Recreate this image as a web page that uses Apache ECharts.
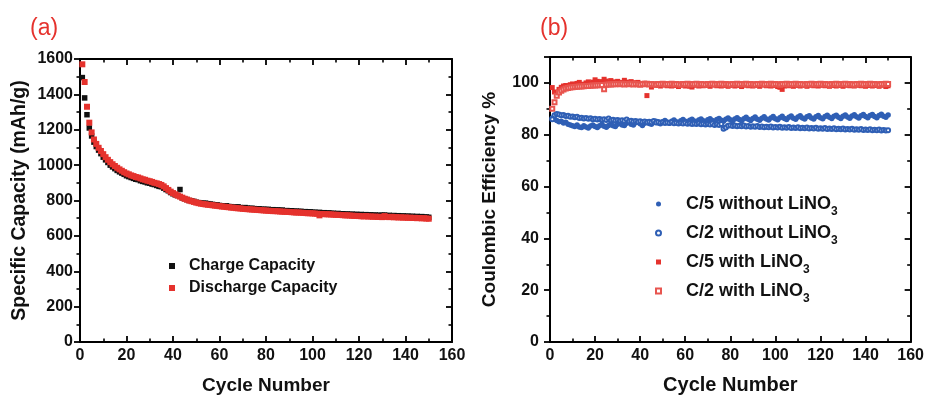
<!DOCTYPE html>
<html>
<head>
<meta charset="utf-8">
<script src="https://cdn.jsdelivr.net/npm/echarts@6/dist/echarts.min.js"></script>
<style>
  html, body { margin: 0; padding: 0; background: #fff; }
  #chart { width: 927px; height: 401px; }
</style>
</head>
<body>
<div id="chart"></div>
<script>
// panel (a) - specific capacity (mAh/g), cycles 1..150
var chargeCap = [1495,1380,1285,1210,1165,1130,1105,1085,1065,1045,
  1030,1015,1000,990,980,970,962,955,948,940,
  935,930,925,920,918,912,908,905,900,898,
  893,890,885,880,878,870,862,855,845,838,
  832,828,862,815,810,805,800,798,795,790,
  788,786,784,785,782,780,778,776,775,772,
  770,768,770,766,765,763,762,764,760,758,
  760,757,755,756,754,752,753,750,751,749,
  750,747,748,745,747,744,746,742,743,741,
  742,739,740,738,739,736,737,735,736,733,
  734,731,733,729,731,728,730,727,728,725,
  727,724,725,722,724,721,723,720,722,719,
  721,718,720,717,719,716,718,715,717,716,
  718,714,716,713,715,712,714,711,713,710,
  712,709,711,708,710,707,709,706,707,705];
var dischargeCap = [1570,1470,1330,1240,1185,1145,1120,1098,1080,1062,
  1045,1030,1017,1005,995,985,976,968,960,953,
  948,942,938,933,930,925,920,917,912,909,
  905,900,897,893,888,880,870,860,850,842,
  835,828,822,816,810,805,800,796,792,788,
  785,782,780,778,776,775,773,771,770,768,
  766,765,763,762,760,759,757,756,755,753,
  752,751,750,749,748,747,746,745,744,743,
  742,741,740,740,739,738,737,736,736,735,
  734,733,732,732,731,730,729,728,728,727,
  726,725,716,724,723,722,722,721,720,719,
  719,718,717,716,716,715,714,713,713,712,
  711,710,712,709,710,708,709,707,708,706,
  712,707,706,708,705,706,704,705,703,704,
  702,703,701,702,700,701,699,700,698,697];

// panel (b) - coulombic efficiency %, cycles 1..150
var c5Without = [86.5,86,85.5,85,85.2,84.5,84.8,84,83.8,83.5,
  83.2,83.8,83,82.8,83.5,83,82.6,83.4,83.8,83.2,
  82.8,83.5,84,83.3,82.9,83.6,84.2,83.5,83.2,84,
  84.5,83.8,83.6,84.4,84.8,84,83.8,84.6,85,84.2,
  83.6,84.4,84.9,84.3,84,84.8,85.2,84.5,84.2,85,
  85.5,84.8,84.4,85.2,85.7,85,84.6,85.4,85.9,85.2,
  84.8,85.6,86,85.3,84.9,85.7,86.1,85.4,85,85.8,
  86.2,85.5,85.1,85.9,86.3,85.6,85.2,86,86.5,85.8,
  85.3,86.1,86.6,85.9,85.4,86.2,86.7,86,85.5,86.3,
  86.8,86,85.6,86.4,86.9,86.1,85.7,86.5,87,86.2,
  85.8,86.6,87.1,86.3,85.9,86.7,87.2,86.4,86,86.8,
  87.3,86.5,86.1,86.9,87.3,86.5,86.1,86.9,87.4,86.6,
  86.2,87,87.5,86.7,86.3,87.1,87.5,86.7,86.3,87.1,
  87.6,86.8,86.4,87.2,87.7,86.9,86.5,87.3,87.8,87,
  86.6,87.4,87.8,87,86.6,87.4,87.9,87.1,86.7,87.6];
var c2Without = [86,87.5,88,87.8,87.5,87.6,87.2,87.3,86.9,87,
  86.7,86.9,86.5,86.6,86.3,86.5,86.2,86.4,86,86.2,
  85.9,86.1,85.8,86,85.7,86.3,85.6,85.8,85.5,85.7,
  85.4,85.6,85.3,85.9,85.2,85.4,85.1,85.3,85,85.2,
  84.9,85.1,84.8,85,84.8,85.3,84.7,84.9,84.6,84.8,
  84.5,84.7,84.5,84.9,84.4,84.6,84.3,84.5,84.3,84.6,
  84.2,84.4,84.1,84.3,84.1,84.4,84,84.2,83.9,84.1,
  83.9,84.3,83.8,84,83.8,84.1,82.3,82.8,83.5,83.7,
  83.4,83.6,83.3,83.5,83.3,83.6,83.2,83.4,83.1,83.3,
  83.1,83.4,83,83.2,82.9,83.1,82.9,83.2,82.8,83,
  82.8,83.1,82.7,82.9,82.7,83,82.6,82.8,82.6,82.9,
  82.5,82.7,82.5,82.8,82.4,82.6,82.4,82.7,82.3,82.5,
  82.3,82.6,82.2,82.4,82.2,82.5,82.1,82.3,82.1,82.4,
  82,82.2,82,82.3,81.9,82.1,81.9,82.2,81.8,82,
  81.8,82.1,81.7,81.9,81.7,82,81.6,81.8,81.6,81.7];
var c5With = [98.2,96.5,96,97.5,98.3,98.8,99,98.5,99.3,99.6,
  99,99.8,100.2,99.5,99.2,100,100.4,99.7,100.3,101.2,
  100.6,100,100.5,101.4,100.7,100.2,100.9,100.4,100,100.6,
  100.2,99.8,101,100.3,99.9,100.5,100.1,99.7,100.2,99.8,
  99.5,99.9,95.1,99.4,98.4,99.1,99.5,99,98.8,99.2,
  99.4,98.9,99.2,98.8,99.3,99,98.6,99.1,99.4,98.8,
  99.2,98.7,98.4,99.1,99.3,98.8,99.2,98.9,99.4,99,
  98.7,99.2,99.5,98.9,99.1,98.8,99.3,99,98.7,99.2,
  99,98.8,99.3,99,98.6,99.1,99.4,98.9,99.2,98.8,
  99.3,99,98.7,99.2,99.4,98.9,99.1,98.8,99.3,99,
  98.6,98.3,97.5,98.8,99.2,98.9,99.1,98.7,99.2,99,
  98.8,99.3,99,98.7,99.1,99.3,98.9,99.2,98.8,99.1,
  99.3,98.9,99,98.7,99.2,99,98.8,99.3,99,98.7,
  99.1,99.3,98.9,99.2,98.8,99.1,99.3,98.9,99.1,98.7,
  99.2,99,98.8,99.3,99,98.7,99.1,99.3,98.6,98.9];
var c2With = [90,92.5,95,96.3,97,97.5,97.8,98,98.2,98.3,
  98.4,98.5,98.6,98.6,98.7,98.8,98.8,98.9,99,99,
  99.1,99.1,99.2,97.6,99.3,99.4,99.4,99.5,99.5,99.6,
  99.5,99.7,99.4,99.6,99.5,99.7,99.4,99.6,99.5,99.3,
  99.6,99.5,99.7,99.4,99.6,99.5,99.3,99.6,99.5,99.7,
  99.4,99.6,99.5,99.7,99.4,99.6,99.5,99.3,99.6,99.5,
  99.7,99.4,99.6,99.5,99.7,99.4,99.6,99.5,99.3,99.6,
  99.5,99.7,99.4,99.6,99.5,99.7,99.4,99.6,99.5,99.3,
  99.6,99.5,99.7,99.4,99.6,99.5,99.7,99.4,99.6,99.5,
  99.3,99.6,99.5,99.7,99.4,99.6,99.5,99.7,99.4,99.6,
  99.5,99.3,99.6,99.5,99.7,99.4,99.6,99.5,99.7,99.4,
  99.6,99.5,99.3,99.6,99.5,99.7,99.4,99.6,99.5,99.7,
  99.4,99.6,99.5,99.3,99.6,99.5,99.7,99.4,99.6,99.5,
  99.7,99.4,99.6,99.5,99.3,99.6,99.5,99.7,99.4,99.6,
  99.5,99.7,99.4,99.6,99.5,99.3,99.6,99.5,99.7,99.6];

var legendA = ['Charge Capacity', 'Discharge Capacity'];
var legendB = ['C/5 without LiNO3', 'C/2 without LiNO3', 'C/5 with LiNO3', 'C/2 with LiNO3'];

var FONT = "'Liberation Sans', Arial, sans-serif";
var RED = '#e5322d';
var BLUE = '#2f5fb5';

function pairs(arr) {
  var out = [];
  for (var i = 0; i < arr.length; i++) {
    out.push([i + 1, arr[i]]);
  }
  return out;
}

function tickStyle(inside) {
  return {
    axisLine: { show: true, onZero: false, lineStyle: { color: '#000', width: 2 } },
    axisTick: { show: true, inside: inside, length: 6, lineStyle: { color: '#000', width: 1.8 } },
    minorTick: { show: true, splitNumber: 2, length: 3.5, lineStyle: { color: '#000', width: 1.6 } },
    splitLine: { show: false }
  };
}

// bottom axis with labels + mirror top axis, ticks inward
function xAxes(grid, nameSize, nameGap) {
  var bottom = Object.assign({
    type: 'value', gridIndex: grid, min: 0, max: 160, interval: 20, position: 'bottom',
    name: 'Cycle Number', nameLocation: 'middle', nameGap: nameGap,
    nameTextStyle: { fontFamily: FONT, fontSize: nameSize, fontWeight: 'bold', color: '#111' },
    axisLabel: { fontFamily: FONT, fontSize: 16, fontWeight: 'bold', color: '#111', margin: 6 }
  }, tickStyle(true));
  var top = Object.assign({
    type: 'value', gridIndex: grid, min: 0, max: 160, interval: 20, position: 'top',
    axisLabel: { show: false }
  }, tickStyle(true));
  return [bottom, top];
}

// left axis ticks outward, right mirror axis ticks inward
function yAxes(grid, max, interval, name, nameSize, nameGap, labelMargin) {
  var left = Object.assign({
    type: 'value', gridIndex: grid, min: 0, max: max, interval: interval, position: 'left',
    name: name, nameLocation: 'middle', nameGap: nameGap,
    nameTextStyle: { fontFamily: FONT, fontSize: nameSize, fontWeight: 'bold', color: '#111' },
    axisLabel: {
      fontFamily: FONT, fontSize: 16, fontWeight: 'bold', color: '#111', margin: labelMargin,
      showMaxLabel: max % interval === 0,
      formatter: function (v) { return String(v); }
    }
  }, tickStyle(false));
  var right = Object.assign({
    type: 'value', gridIndex: grid, min: 0, max: max, interval: interval, position: 'right',
    axisLabel: { show: false }
  }, tickStyle(true));
  return [left, right];
}

var myChart = echarts.init(document.getElementById('chart'), null, { renderer: 'canvas' });

var option = {
  backgroundColor: '#fff',
  animation: false,
  title: [
    { text: '(a)', left: 25, top: 12, textStyle: { fontFamily: FONT, fontSize: 23, fontWeight: 'normal', color: RED } },
    { text: '(b)', left: 535, top: 12, textStyle: { fontFamily: FONT, fontSize: 23, fontWeight: 'normal', color: RED } }
  ],
  grid: [
    { left: 80, top: 59, width: 372, height: 283 },
    { left: 550, top: 57, width: 361, height: 285 }
  ],
  xAxis: xAxes(0, 19, 34).concat(xAxes(1, 20, 33)),
  yAxis: yAxes(0, 1600, 200, 'Specific Capacity (mAh/g)', 19.5, 50, 7)
    .concat(yAxes(1, 110, 20, 'Coulombic Efficiency %', 19, 51, 11)),
  legend: [
    {
      data: legendA, orient: 'vertical', left: 169, top: 256, padding: 0,
      itemWidth: 6, itemHeight: 6, itemGap: 2,
      textStyle: { fontFamily: FONT, fontSize: 16, fontWeight: 'bold', color: '#111', lineHeight: 20, padding: [0, 0, 0, 9] }
    },
    {
      data: legendB, orient: 'vertical', left: 655, top: 195, padding: 0,
      itemWidth: 5, itemHeight: 5, itemGap: 6,
      formatter: function (name) {
        return '{m|' + name.slice(0, -1) + '}{s|3}';
      },
      textStyle: {
        fontFamily: FONT, fontSize: 18, color: '#111', padding: [0, 0, 0, 20],
        rich: {
          m: { fontFamily: FONT, fontSize: 18, fontWeight: 'bold', color: '#111', lineHeight: 26 },
          s: { fontFamily: FONT, fontSize: 12, fontWeight: 'bold', color: '#111', lineHeight: 28, verticalAlign: 'bottom' }
        }
      }
    }
  ],
  series: [
    {
      name: legendA[0], type: 'scatter', xAxisIndex: 0, yAxisIndex: 0,
      symbol: 'rect', symbolSize: 5.5, itemStyle: { color: '#111', opacity: 1 },
      data: pairs(chargeCap)
    },
    {
      name: legendA[1], type: 'scatter', xAxisIndex: 0, yAxisIndex: 0,
      symbol: 'rect', symbolSize: 6, itemStyle: { color: RED, opacity: 1 },
      data: pairs(dischargeCap)
    },
    {
      name: legendB[0], type: 'scatter', xAxisIndex: 2, yAxisIndex: 2,
      symbol: 'circle', symbolSize: 5.5, itemStyle: { color: BLUE, opacity: 1 },
      data: pairs(c5Without)
    },
    {
      name: legendB[1], type: 'scatter', xAxisIndex: 2, yAxisIndex: 2,
      symbol: 'emptyCircle', symbolSize: 4, itemStyle: { color: BLUE, borderWidth: 1, opacity: 1 },
      data: pairs(c2Without)
    },
    {
      name: legendB[2], type: 'scatter', xAxisIndex: 2, yAxisIndex: 2,
      symbol: 'rect', symbolSize: 5, itemStyle: { color: RED, opacity: 1 },
      data: pairs(c5With)
    },
    {
      name: legendB[3], type: 'scatter', xAxisIndex: 2, yAxisIndex: 2,
      symbol: 'emptyRect', symbolSize: 4, itemStyle: { color: '#e8554f', borderWidth: 1, opacity: 1 },
      data: pairs(c2With)
    }
  ]
};

myChart.setOption(option);
</script>
</body>
</html>
